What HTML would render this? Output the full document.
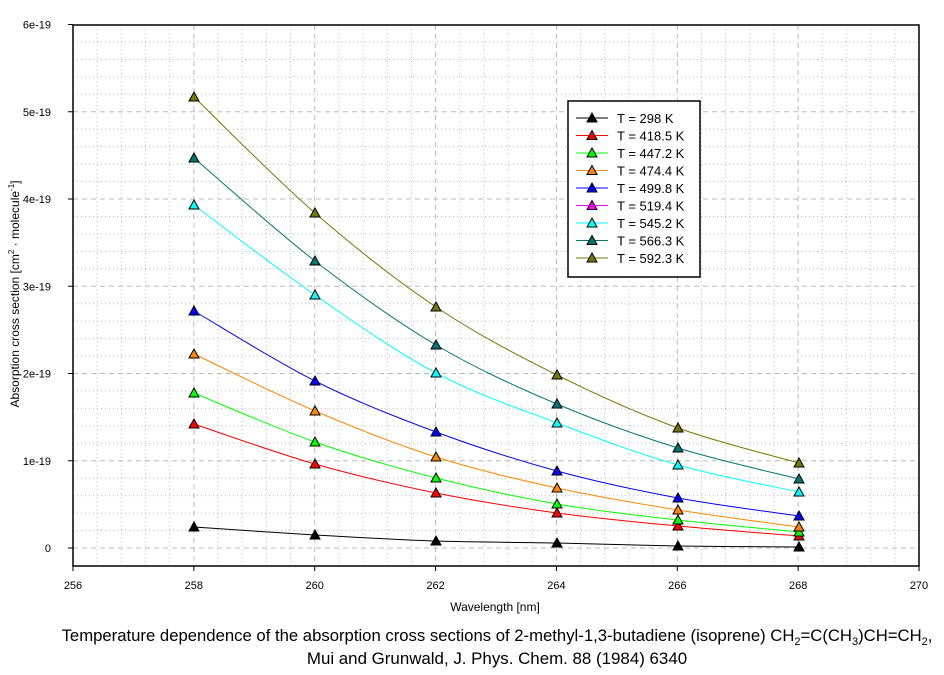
<!DOCTYPE html>
<html><head><meta charset="utf-8"><style>
body{margin:0;background:#fff;}
svg text{font-family:"Liberation Sans",Arial,sans-serif;}
</style></head><body>
<svg width="944" height="670" xmlns="http://www.w3.org/2000/svg">
<g id="grid"></g>
<rect x="73" y="25" width="846" height="541" fill="none" stroke="#000" stroke-width="1.5"/>
<g id="ticks" stroke="#000" stroke-width="1"></g>
<g id="series"></g>
<g font-size="11" fill="#000" id="labels"></g>
<text x="495" y="611" font-size="12" text-anchor="middle">Wavelength [nm]</text>
<text transform="translate(19,294) rotate(-90)" font-size="12" text-anchor="middle">Absorption cross section [cm<tspan font-size="8" dy="-5">2</tspan><tspan dy="5"> · molecule</tspan><tspan font-size="8" dy="-5">-1</tspan><tspan dy="5">]</tspan></text>
<text x="497" y="641" font-size="16.7" text-anchor="middle">Temperature dependence of the absorption cross sections of 2-methyl-1,3-butadiene (isoprene) CH<tspan font-size="11" dy="4">2</tspan><tspan dy="-4">=C(CH</tspan><tspan font-size="11" dy="4">3</tspan><tspan dy="-4">)CH=CH</tspan><tspan font-size="11" dy="4">2</tspan><tspan dy="-4">,</tspan></text>
<text x="497" y="664" font-size="16.9" text-anchor="middle">Mui and Grunwald, J. Phys. Chem. 88 (1984) 6340</text>
<rect x="568" y="101" width="132" height="176" fill="#fff" stroke="#000" stroke-width="1.5"/>
<g id="legend"></g>
<script>
const ns="http://www.w3.org/2000/svg";
function el(p,t,a){const e=document.createElementNS(ns,t);for(const k in a)e.setAttribute(k,a[k]);p.appendChild(e);return e;}
const g=document.getElementById('grid'),tk=document.getElementById('ticks'),lb=document.getElementById('labels');
const X=v=>73+(v-256)*846/14, Y=v=>566-18-v*87.25;
for(let v=256.4;v<270;v+=0.4){const x=X(v);if(Math.abs((v-256)/2-Math.round((v-256)/2))<0.01)continue;el(g,'line',{x1:x,x2:x,y1:25,y2:566,stroke:'#bbb','stroke-dasharray':'1,3'});}
for(let i=0;i<30;i++){const y=548-i*17.45;if(i%5==0)continue;if(y<25)break;el(g,'line',{x1:73,x2:919,y1:y,y2:y,stroke:'#bbb','stroke-dasharray':'1,3'});}
for(let v=258;v<270;v+=2){const x=X(v);el(g,'line',{x1:x,x2:x,y1:25,y2:566,stroke:'#bbb','stroke-dasharray':'5,4'});}
for(let i=0;i<6;i++){const y=Y(i);el(g,'line',{x1:73,x2:919,y1:y,y2:y,stroke:'#bbb','stroke-dasharray':'5,4'});}
for(let v=256;v<=270;v+=2){const x=X(v);el(tk,'line',{x1:x,x2:x,y1:566,y2:571});const t=el(lb,'text',{x:x,y:589,'text-anchor':'middle'});t.textContent=v;}
for(let i=0;i<=6;i++){const y=Y(i);el(tk,'line',{x1:68,x2:73,y1:y,y2:y});const t=el(lb,'text',{x:51,y:y+4,'text-anchor':'end'});t.textContent=i?i+'e-19':'0';}
const xs=[194,315,436,557,678,799];
const S=[['#000',[527,535,541,543,546,547]],['#f00',[424,464,493,513,526,536]],['#0f0',[393,442,478,504,520,532]],['#f80',[354,411,457,488,510,527]],['#00f',[311,381,432,471,498,516]],['#0ff',[205,295,373,423,465,492]],['#077',[158,261,345,404,448,479]],['#770',[97,213,307,375,428,463]]];
const sg=document.getElementById('series');
function tri(p,x,y,c){el(p,'polygon',{points:`${x},${y-5} ${x-5},${y+4} ${x+5},${y+4}`,fill:c,stroke:'#000','stroke-width':1});}
function smooth(ys){let d=`M${xs[0]},${ys[0]}`;for(let i=0;i<5;i++){const y0=ys[Math.max(i-1,0)],y1=ys[i],y2=ys[i+1],y3=ys[Math.min(i+2,5)];const x0=xs[Math.max(i-1,0)],x3=xs[Math.min(i+2,5)];d+=` C${xs[i]+(xs[i+1]-x0)/6},${y1+(y2-y0)/6} ${xs[i+1]-(x3-xs[i])/6},${y2-(y3-y1)/6} ${xs[i+1]},${y2}`;}return d;}
S.forEach(([c,ys])=>{el(sg,'path',{d:smooth(ys),fill:'none',stroke:c,'stroke-width':1});xs.forEach((x,i)=>tri(sg,x,ys[i],c));});
const L=[['#000','298'],['#f00','418.5'],['#0f0','447.2'],['#f80','474.4'],['#00f','499.8'],['#f0f','519.4'],['#0ff','545.2'],['#077','566.3'],['#770','592.3']];
const lg=document.getElementById('legend');
L.forEach(([c,t],i)=>{const y=118+i*17.5;el(lg,'line',{x1:576,x2:608,y1:y,y2:y,stroke:c});tri(lg,592,y,c);const e=el(lg,'text',{x:617,y:y+5,'font-size':'13'});e.textContent='T = '+t+' K';});
</script>
</svg>
</body></html>
